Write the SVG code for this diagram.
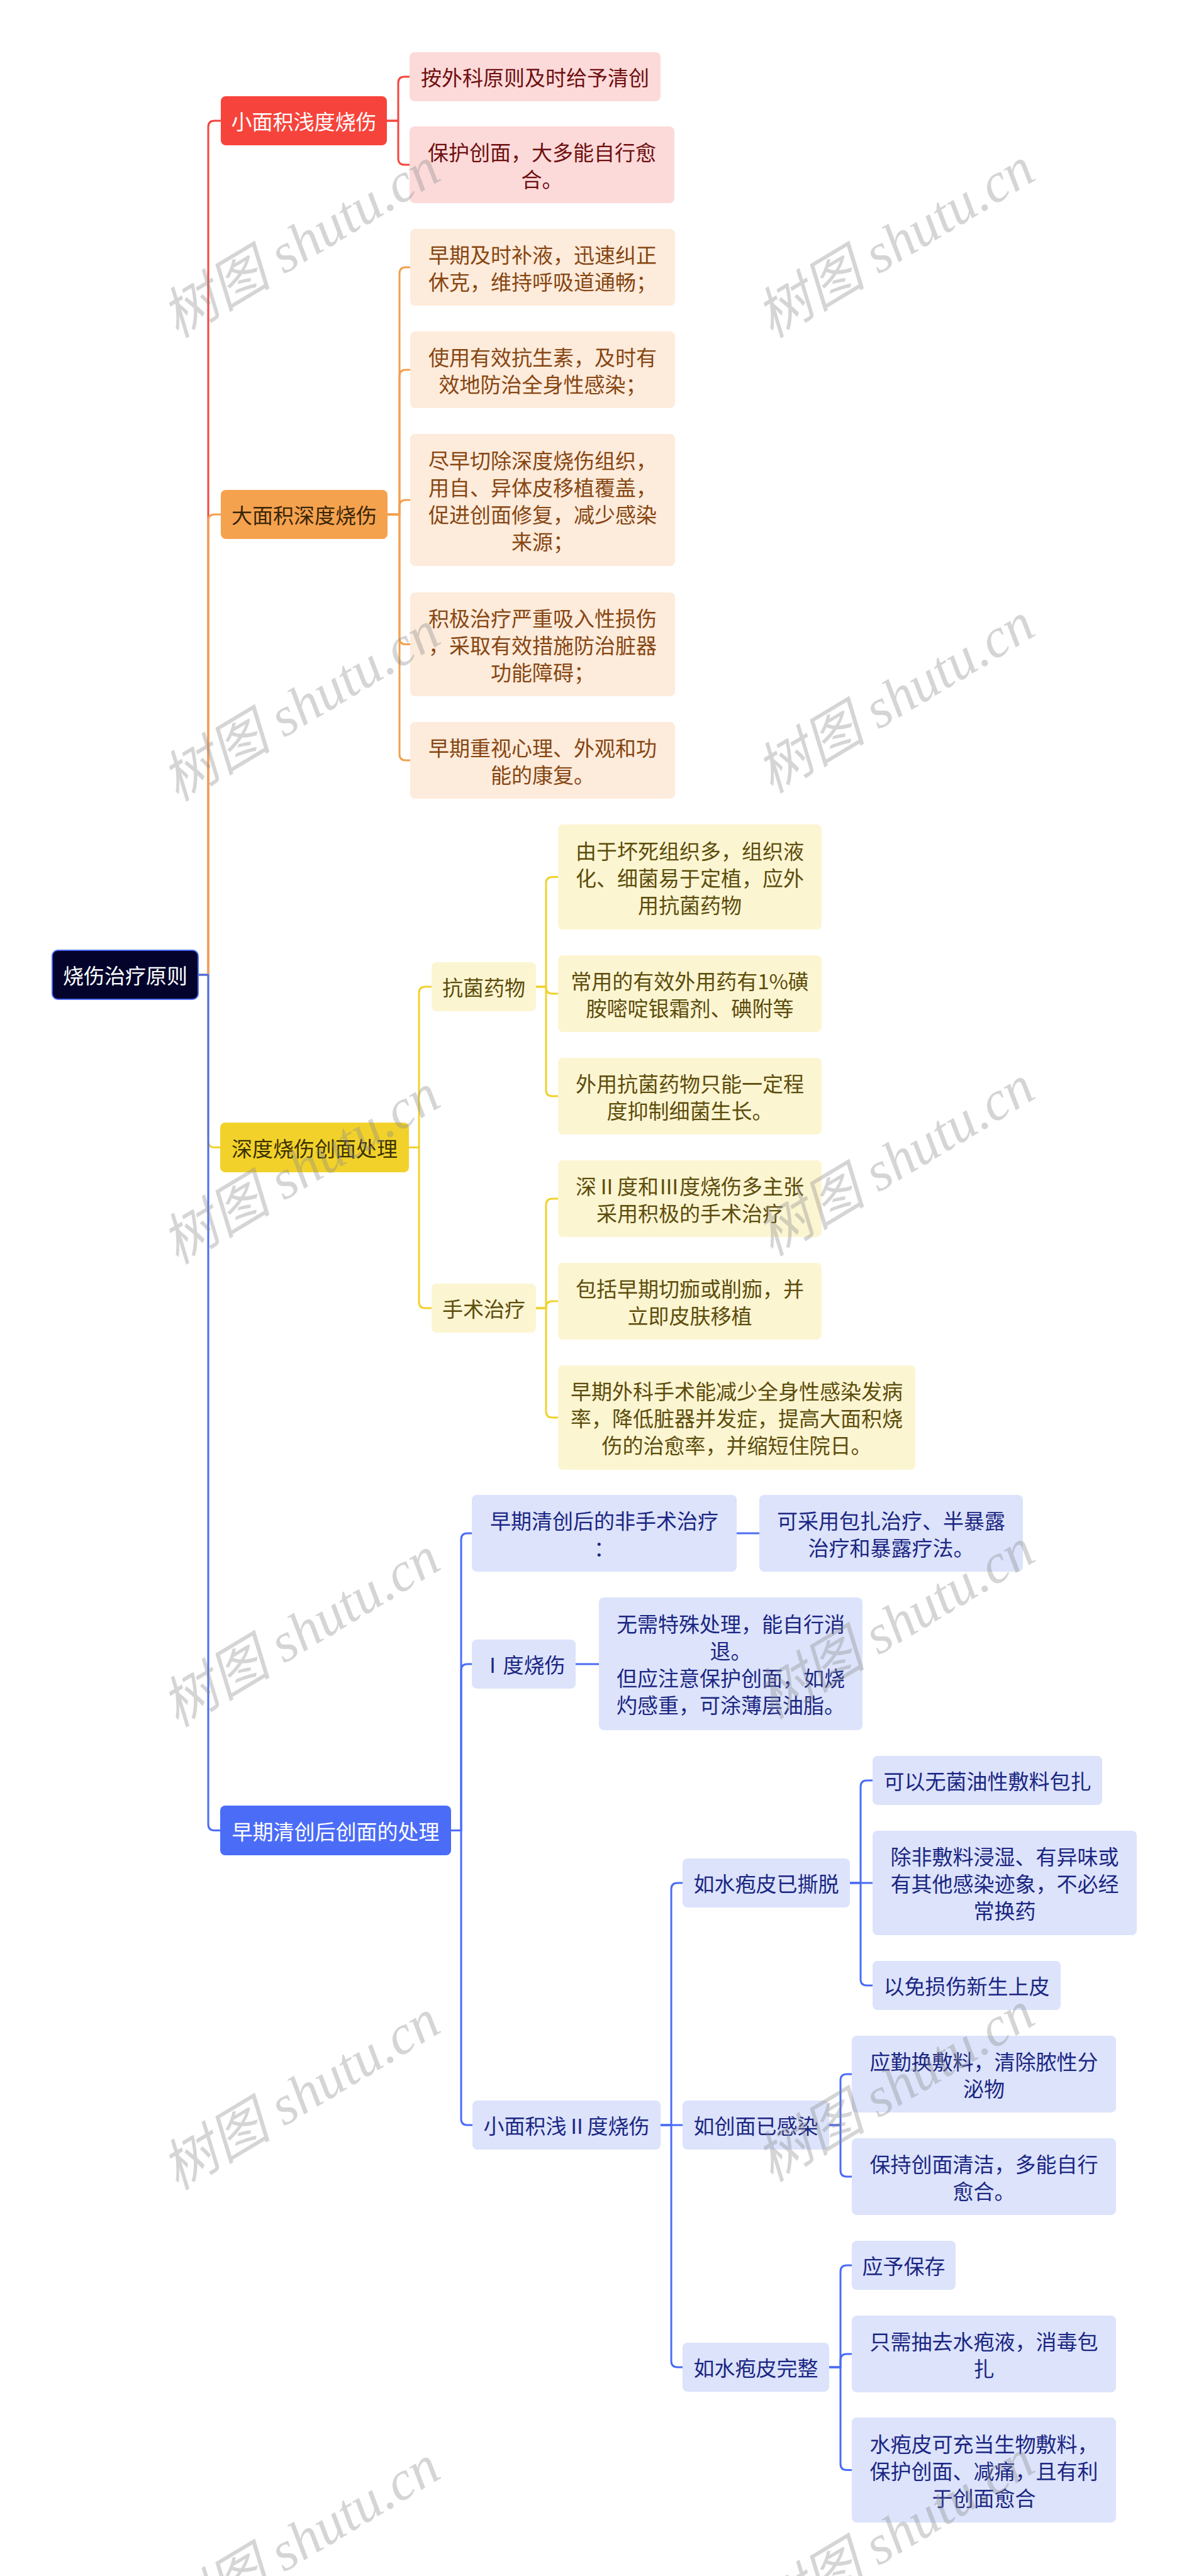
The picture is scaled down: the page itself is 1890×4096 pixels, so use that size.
<svg xmlns="http://www.w3.org/2000/svg" width="1890" height="4096" viewBox="0 0 1890 4096">
<style>
.t{font-family:"Noto Sans CJK SC","Noto Sans",sans-serif;font-size:33px;text-anchor:middle;dominant-baseline:central}
.c{fill:none;stroke-width:3;stroke-linecap:round;stroke-linejoin:round}
.cr{stroke:#f5443c}.co{stroke:#f2a04e}.cy{stroke:#f0d22e}.cb{stroke:#4a6cf5}
.wm{font-family:"Liberation Serif","Noto Sans CJK SC",serif;font-style:italic;font-size:88px;fill:#8c8c8c;opacity:0.36;text-anchor:middle;dominant-baseline:central}
</style>
<rect width="1890" height="4096" fill="#ffffff"/>
<g id="connectors">
<path class="c cr" d="M315 1550 H331 V202 Q331 192 341 192 H351"/>
<path class="c co" d="M315 1550 H331 V828 Q331 818 341 818 H351"/>
<path class="c cy" d="M315 1550 H331 V1814.5 Q331 1824.5 341 1824.5 H350"/>
<path class="c cb" d="M315 1550 H331 V2900.5 Q331 2910.5 341 2910.5 H350"/>
<path class="c cr" d="M615 192 H633 V132 Q633 122 643 122 H651"/>
<path class="c cr" d="M615 192 H633 V252 Q633 262 643 262 H651"/>
<path class="c co" d="M616 818 H635 V435 Q635 425 645 425 H652"/>
<path class="c co" d="M616 818 H635 V598 Q635 588 645 588 H652"/>
<path class="c co" d="M616 818 H635 V805 Q635 795 645 795 H652"/>
<path class="c co" d="M616 818 H635 V1014.5 Q635 1024.5 645 1024.5 H652"/>
<path class="c co" d="M616 818 H635 V1199 Q635 1209 645 1209 H652"/>
<path class="c cy" d="M650 1824.5 H666 V1579 Q666 1569 676 1569 H686"/>
<path class="c cy" d="M650 1824.5 H666 V2070 Q666 2080 676 2080 H686"/>
<path class="c cy" d="M852 1569 H868 V1404.5 Q868 1394.5 878 1394.5 H887"/>
<path class="c cy" d="M852 1569 H868 V1570 Q868 1580 878 1580 H887"/>
<path class="c cy" d="M852 1569 H868 V1733 Q868 1743 878 1743 H887"/>
<path class="c cy" d="M852 2080 H868 V1916 Q868 1906 878 1906 H887"/>
<path class="c cy" d="M852 2080 H868 V2079 Q868 2069 878 2069 H887"/>
<path class="c cy" d="M852 2080 H868 V2244 Q868 2254 878 2254 H887"/>
<path class="c cb" d="M717 2910.5 H733 V2448 Q733 2438 743 2438 H750"/>
<path class="c cb" d="M717 2910.5 H733 V2656 Q733 2646 743 2646 H750"/>
<path class="c cb" d="M717 2910.5 H733 V3369 Q733 3379 743 3379 H751"/>
<path class="c cb" d="M1171 2438 H1207"/>
<path class="c cb" d="M915 2646 H952"/>
<path class="c cb" d="M1050 3379 H1067 V3004 Q1067 2994 1077 2994 H1085"/>
<path class="c cb" d="M1050 3379 H1085"/>
<path class="c cb" d="M1050 3379 H1067 V3754 Q1067 3764 1077 3764 H1085"/>
<path class="c cb" d="M1351 2994 H1368 V2841 Q1368 2831 1378 2831 H1387"/>
<path class="c cb" d="M1351 2994 H1387"/>
<path class="c cb" d="M1351 2994 H1368 V3147 Q1368 3157 1378 3157 H1387"/>
<path class="c cb" d="M1318 3379 H1336 V3308 Q1336 3298 1346 3298 H1354"/>
<path class="c cb" d="M1318 3379 H1336 V3451 Q1336 3461 1346 3461 H1354"/>
<path class="c cb" d="M1318 3764 H1336 V3612 Q1336 3602 1346 3602 H1354"/>
<path class="c cb" d="M1318 3764 H1336 V3753 Q1336 3743 1346 3743 H1354"/>
<path class="c cb" d="M1318 3764 H1336 V3917.5 Q1336 3927.5 1346 3927.5 H1354"/>
</g>
<g id="root"><rect x="83" y="1511" width="232" height="78" rx="9" fill="#03032c" stroke="#4a6cf5" stroke-width="2"/><text class="t" x="199" y="1550" fill="#ffffff">烧伤治疗原则</text></g>
<g id="m1"><rect x="351" y="153" width="264" height="78" rx="8" fill="#f6443c"/><text class="t" x="483" y="192" fill="#ffffff">小面积浅度烧伤</text></g>
<g id="m2"><rect x="351" y="779" width="265" height="78" rx="8" fill="#f5a24f"/><text class="t" x="483.5" y="818" fill="#3a2606">大面积深度烧伤</text></g>
<g id="m3"><rect x="350" y="1785" width="300" height="79" rx="8" fill="#f2d22a"/><text class="t" x="500" y="1824.5" fill="#3a3000">深度烧伤创面处理</text></g>
<g id="m4"><rect x="350" y="2871" width="367" height="79" rx="8" fill="#4b6cf7"/><text class="t" x="533.5" y="2910.5" fill="#ffffff">早期清创后创面的处理</text></g>
<g id="r1"><rect x="651" y="83" width="399" height="78" rx="8" fill="#fddada"/><text class="t" x="850.5" y="122" fill="#6e0f0f">按外科原则及时给予清创</text></g>
<g id="r2"><rect x="651" y="201" width="421" height="122" rx="8" fill="#fddada"/><text class="t" fill="#6e0f0f"><tspan x="861.5" y="240.5">保护创面，大多能自行愈</tspan><tspan x="861.5" y="283.5">合。</tspan></text></g>
<g id="o1"><rect x="652" y="364" width="421" height="122" rx="8" fill="#fdebdb"/><text class="t" fill="#874612"><tspan x="862.5" y="403.5">早期及时补液，迅速纠正</tspan><tspan x="862.5" y="446.5">休克，维持呼吸道通畅；</tspan></text></g>
<g id="o2"><rect x="652" y="527" width="421" height="122" rx="8" fill="#fdebdb"/><text class="t" fill="#874612"><tspan x="862.5" y="566.5">使用有效抗生素，及时有</tspan><tspan x="862.5" y="609.5">效地防治全身性感染；</tspan></text></g>
<g id="o3"><rect x="652" y="690" width="421" height="210" rx="8" fill="#fdebdb"/><text class="t" fill="#874612"><tspan x="862.5" y="730.5">尽早切除深度烧伤组织，</tspan><tspan x="862.5" y="773.5">用自、异体皮移植覆盖，</tspan><tspan x="862.5" y="816.5">促进创面修复，减少感染</tspan><tspan x="862.5" y="859.5">来源；</tspan></text></g>
<g id="o4"><rect x="652" y="942" width="421" height="165" rx="8" fill="#fdebdb"/><text class="t" fill="#874612"><tspan x="862.5" y="981.5">积极治疗严重吸入性损伤</tspan><tspan x="862.5" y="1024.5">，采取有效措施防治脏器</tspan><tspan x="862.5" y="1067.5">功能障碍；</tspan></text></g>
<g id="o5"><rect x="652" y="1148" width="421" height="122" rx="8" fill="#fdebdb"/><text class="t" fill="#874612"><tspan x="862.5" y="1187.5">早期重视心理、外观和功</tspan><tspan x="862.5" y="1230.5">能的康复。</tspan></text></g>
<g id="y1"><rect x="686" y="1530" width="166" height="78" rx="8" fill="#fcf5d2"/><text class="t" x="769" y="1569" fill="#5c4d0c">抗菌药物</text></g>
<g id="y2"><rect x="686" y="2041" width="166" height="78" rx="8" fill="#fcf5d2"/><text class="t" x="769" y="2080" fill="#5c4d0c">手术治疗</text></g>
<g id="y1a"><rect x="887" y="1311" width="419" height="167" rx="8" fill="#fcf5d2"/><text class="t" fill="#5c4d0c"><tspan x="1096.5" y="1351.5">由于坏死组织多，组织液</tspan><tspan x="1096.5" y="1394.5">化、细菌易于定植，应外</tspan><tspan x="1096.5" y="1437.5">用抗菌药物</tspan></text></g>
<g id="y1b"><rect x="887" y="1519" width="419" height="122" rx="8" fill="#fcf5d2"/><text class="t" fill="#5c4d0c"><tspan x="1096.5" y="1558.5">常用的有效外用药有1%磺</tspan><tspan x="1096.5" y="1601.5">胺嘧啶银霜剂、碘附等</tspan></text></g>
<g id="y1c"><rect x="887" y="1682" width="419" height="122" rx="8" fill="#fcf5d2"/><text class="t" fill="#5c4d0c"><tspan x="1096.5" y="1721.5">外用抗菌药物只能一定程</tspan><tspan x="1096.5" y="1764.5">度抑制细菌生长。</tspan></text></g>
<g id="y2a"><rect x="887" y="1845" width="419" height="122" rx="8" fill="#fcf5d2"/><text class="t" fill="#5c4d0c"><tspan x="1096.5" y="1884.5">深Ⅱ度和Ⅲ度烧伤多主张</tspan><tspan x="1096.5" y="1927.5">采用积极的手术治疗</tspan></text></g>
<g id="y2b"><rect x="887" y="2008" width="419" height="122" rx="8" fill="#fcf5d2"/><text class="t" fill="#5c4d0c"><tspan x="1096.5" y="2047.5">包括早期切痂或削痂，并</tspan><tspan x="1096.5" y="2090.5">立即皮肤移植</tspan></text></g>
<g id="y2c"><rect x="887" y="2171" width="568" height="166" rx="8" fill="#fcf5d2"/><text class="t" fill="#5c4d0c"><tspan x="1171" y="2211">早期外科手术能减少全身性感染发病</tspan><tspan x="1171" y="2254">率，降低脏器并发症，提高大面积烧</tspan><tspan x="1171" y="2297">伤的治愈率，并缩短住院日。</tspan></text></g>
<g id="b1"><rect x="750" y="2377" width="421" height="122" rx="8" fill="#dce3fb"/><text class="t" fill="#1b2682"><tspan x="960.5" y="2416.5">早期清创后的非手术治疗</tspan><tspan x="960.5" y="2459.5">：</tspan></text></g>
<g id="b1a"><rect x="1207" y="2377" width="419" height="122" rx="8" fill="#dce3fb"/><text class="t" fill="#1b2682"><tspan x="1416.5" y="2416.5">可采用包扎治疗、半暴露</tspan><tspan x="1416.5" y="2459.5">治疗和暴露疗法。</tspan></text></g>
<g id="b2"><rect x="750" y="2607" width="165" height="78" rx="8" fill="#dce3fb"/><text class="t" x="832.5" y="2646" fill="#1b2682">Ⅰ度烧伤</text></g>
<g id="b2a"><rect x="952" y="2540" width="419" height="211" rx="8" fill="#dce3fb"/><text class="t" fill="#1b2682"><tspan x="1161.5" y="2581">无需特殊处理，能自行消</tspan><tspan x="1161.5" y="2624">退。</tspan><tspan x="1161.5" y="2667">但应注意保护创面，如烧</tspan><tspan x="1161.5" y="2710">灼感重，可涂薄层油脂。</tspan></text></g>
<g id="b3"><rect x="751" y="3340" width="299" height="78" rx="8" fill="#dce3fb"/><text class="t" x="900.5" y="3379" fill="#1b2682">小面积浅Ⅱ度烧伤</text></g>
<g id="b3a"><rect x="1085" y="2955" width="266" height="78" rx="8" fill="#dce3fb"/><text class="t" x="1218" y="2994" fill="#1b2682">如水疱皮已撕脱</text></g>
<g id="b3b"><rect x="1085" y="3340" width="233" height="78" rx="8" fill="#dce3fb"/><text class="t" x="1201.5" y="3379" fill="#1b2682">如创面已感染</text></g>
<g id="b3c"><rect x="1085" y="3725" width="233" height="78" rx="8" fill="#dce3fb"/><text class="t" x="1201.5" y="3764" fill="#1b2682">如水疱皮完整</text></g>
<g id="a1"><rect x="1387" y="2792" width="365" height="78" rx="8" fill="#dce3fb"/><text class="t" x="1569.5" y="2831" fill="#1b2682">可以无菌油性敷料包扎</text></g>
<g id="a2"><rect x="1387" y="2911" width="420" height="166" rx="8" fill="#dce3fb"/><text class="t" fill="#1b2682"><tspan x="1597" y="2951">除非敷料浸湿、有异味或</tspan><tspan x="1597" y="2994">有其他感染迹象，不必经</tspan><tspan x="1597" y="3037">常换药</tspan></text></g>
<g id="a3"><rect x="1387" y="3118" width="299" height="78" rx="8" fill="#dce3fb"/><text class="t" x="1536.5" y="3157" fill="#1b2682">以免损伤新生上皮</text></g>
<g id="b1c"><rect x="1354" y="3237" width="420" height="122" rx="8" fill="#dce3fb"/><text class="t" fill="#1b2682"><tspan x="1564" y="3276.5">应勤换敷料，清除脓性分</tspan><tspan x="1564" y="3319.5">泌物</tspan></text></g>
<g id="b2c"><rect x="1354" y="3400" width="420" height="122" rx="8" fill="#dce3fb"/><text class="t" fill="#1b2682"><tspan x="1564" y="3439.5">保持创面清洁，多能自行</tspan><tspan x="1564" y="3482.5">愈合。</tspan></text></g>
<g id="c1"><rect x="1354" y="3563" width="165" height="78" rx="8" fill="#dce3fb"/><text class="t" x="1436.5" y="3602" fill="#1b2682">应予保存</text></g>
<g id="c2"><rect x="1354" y="3682" width="420" height="122" rx="8" fill="#dce3fb"/><text class="t" fill="#1b2682"><tspan x="1564" y="3721.5">只需抽去水疱液，消毒包</tspan><tspan x="1564" y="3764.5">扎</tspan></text></g>
<g id="c3"><rect x="1354" y="3844" width="420" height="167" rx="8" fill="#dce3fb"/><text class="t" fill="#1b2682"><tspan x="1564" y="3884.5">水疱皮可充当生物敷料，</tspan><tspan x="1564" y="3927.5">保护创面、减痛，且有利</tspan><tspan x="1564" y="3970.5">于创面愈合</tspan></text></g>
<g id="watermarks">
<text class="wm" x="478" y="386" transform="rotate(-31 478 386)">树图 shutu.cn</text>
<text class="wm" x="1423" y="386" transform="rotate(-31 1423 386)">树图 shutu.cn</text>
<text class="wm" x="478" y="1123" transform="rotate(-31 478 1123)">树图 shutu.cn</text>
<text class="wm" x="1423" y="1110" transform="rotate(-31 1423 1110)">树图 shutu.cn</text>
<text class="wm" x="478" y="1859" transform="rotate(-31 478 1859)">树图 shutu.cn</text>
<text class="wm" x="1423" y="1846" transform="rotate(-31 1423 1846)">树图 shutu.cn</text>
<text class="wm" x="478" y="2595" transform="rotate(-31 478 2595)">树图 shutu.cn</text>
<text class="wm" x="1423" y="2582" transform="rotate(-31 1423 2582)">树图 shutu.cn</text>
<text class="wm" x="478" y="3331" transform="rotate(-31 478 3331)">树图 shutu.cn</text>
<text class="wm" x="1423" y="3318" transform="rotate(-31 1423 3318)">树图 shutu.cn</text>
<text class="wm" x="478" y="4040" transform="rotate(-31 478 4040)">树图 shutu.cn</text>
<text class="wm" x="1423" y="4030" transform="rotate(-31 1423 4030)">树图 shutu.cn</text>
</g>
</svg>
